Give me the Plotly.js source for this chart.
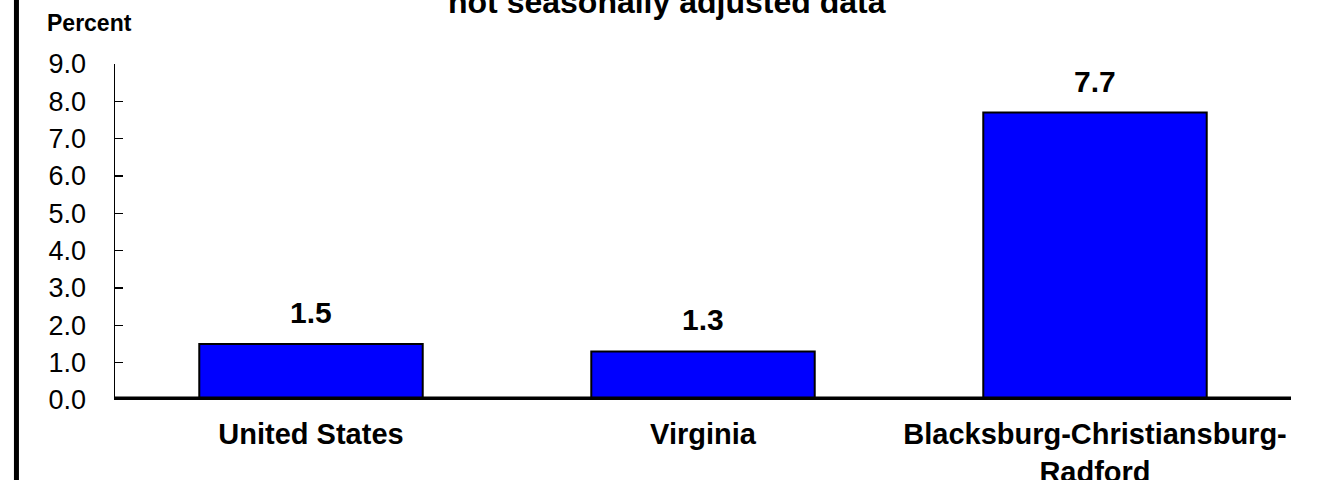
<!DOCTYPE html>
<html>
<head>
<meta charset="utf-8">
<script src="https://cdn.plot.ly/plotly-3.0.1.min.js"></script>
<style>html,body{margin:0;padding:0;background:#fff;}#chart{width:1326px;height:480px;}</style>
</head>
<body>
<div id="chart"></div>
<script>
var categories = ["United States", "Virginia", "Blacksburg-Christiansburg-<br>Radford"];
var values = [1.5, 1.3, 7.7];
var valueLabels = ["1.5", "1.3", "7.7"];
var chartTitle = "not seasonally adjusted data";
var yAxisLabel = "Percent";

var FONT = "Liberation Sans, Arial, Helvetica, sans-serif";

var trace = {
  type: "bar",
  x: categories,
  y: values,
  marker: { color: "#0000FF", line: { color: "#000000", width: 2 } },
  hoverinfo: "x+y"
};

var annotations = categories.map(function (c, i) {
  return {
    x: c, y: values[i], xref: "x", yref: "y",
    text: "<b>" + valueLabels[i] + "</b>",
    showarrow: false, yanchor: "bottom", yshift: 13,
    font: { family: FONT, size: 30, color: "#000" }
  };
});
annotations.push({
  xref: "paper", yref: "paper", x: 0.469, y: 1.185, xanchor: "center", yanchor: "middle",
  text: "<b>" + chartTitle + "</b>", showarrow: false,
  font: { family: FONT, size: 32, color: "#000" }
});
annotations.push({
  xref: "paper", yref: "paper", x: -0.0595, y: 1.1235, xanchor: "left", yanchor: "middle",
  text: "<b>" + yAxisLabel + "</b>", showarrow: false,
  font: { family: FONT, size: 23, color: "#000" }
});

var layout = {
  width: 1326, height: 480,
  margin: { l: 115, r: 35, t: 64, b: 80, pad: 0 },
  paper_bgcolor: "#ffffff", plot_bgcolor: "#ffffff",
  showlegend: false,
  bargap: 0.43,
  xaxis: {
    type: "category",
    showline: false, showgrid: false, zeroline: false,
    ticks: "", ticklabelstandoff: 14,
    tickfont: { family: FONT, size: 29, color: "#000", weight: "bold" }
  },
  yaxis: {
    range: [0, 9], dtick: 1, tick0: 0, tickformat: ".1f",
    showline: true, linecolor: "#000", linewidth: 1.5,
    ticks: "inside", ticklen: 8, tickwidth: 1.5, tickcolor: "#000",
    showgrid: false, zeroline: false,
    ticklabelstandoff: 22,
    tickfont: { family: FONT, size: 27, color: "#000" }
  },
  shapes: [
    { type: "line", xref: "paper", yref: "y", x0: 0, x1: 1, y0: 0, y1: 0,
      line: { color: "#000", width: 7 } },
    { type: "line", xref: "paper", yref: "paper", x0: -0.0838, x1: -0.0838, y0: -1, y1: 2,
      line: { color: "#000", width: 5 } }
  ],
  annotations: annotations
};

Plotly.newPlot("chart", [trace], layout, { displayModeBar: false, staticPlot: true });
</script>
</body>
</html>
